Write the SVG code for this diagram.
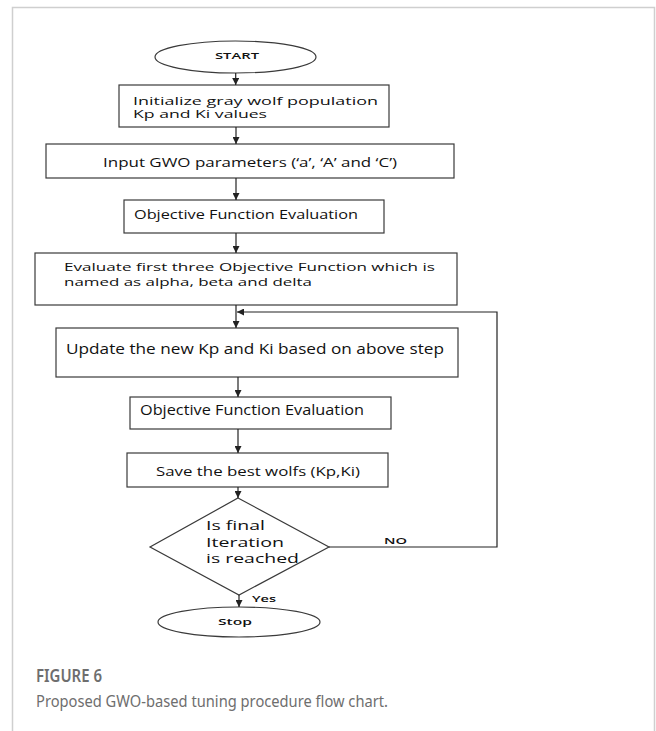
<svg xmlns="http://www.w3.org/2000/svg" width="656" height="731" viewBox="0 0 656 731">
<style>
.frame{fill:none;stroke:#cfcfcf;stroke-width:1.5}
.box{fill:#fff;stroke:#3a3a3a;stroke-width:1.2}
.t{font-family:"Open Sans","DejaVu Sans",sans-serif;fill:#111}
.lbl{font-family:"Open Sans","DejaVu Sans",sans-serif;fill:#111;font-weight:600}
.edge{fill:none;stroke:#222;stroke-width:1.2}
.cap{font-family:"Noto Sans","Open Sans",sans-serif;fill:#6e6e6e}
</style>
<defs>
<marker id="ah" viewBox="0 0 10 10" refX="10" refY="5" markerWidth="7" markerHeight="7" markerUnits="userSpaceOnUse" orient="auto">
<path d="M0,0 L10,5 L0,10 z" fill="#222"/>
</marker>
</defs>
<rect width="656" height="731" fill="#fff"/>
<path class="frame" d="M12.5,731 V7.5 H654.5 V731"/>

<g id="start">
<ellipse class="box" cx="235.5" cy="57" rx="80.5" ry="16"/>
<text class="lbl" x="215" y="58.5" font-size="8.5" textLength="44" lengthAdjust="spacingAndGlyphs">START</text>
</g>
<g id="init">
<rect class="box" x="119" y="85" width="270" height="42"/>
<text class="t" x="133" y="104.5" font-size="10.5" textLength="245" lengthAdjust="spacingAndGlyphs">Initialize gray wolf population</text>
<text class="t" x="133" y="118.2" font-size="10.5" textLength="134" lengthAdjust="spacingAndGlyphs">Kp and Ki values</text>
</g>
<g id="params">
<rect class="box" x="46" y="144" width="408" height="34"/>
<text class="t" x="103" y="166.7" font-size="13.5" textLength="294" lengthAdjust="spacingAndGlyphs">Input GWO parameters (‘a’, ‘A’ and ‘C’)</text>
</g>
<g id="eval1">
<rect class="box" x="124" y="200" width="260" height="33"/>
<text class="t" x="134" y="219.3" font-size="13.5" textLength="224" lengthAdjust="spacingAndGlyphs">Objective Function Evaluation</text>
</g>
<g id="first3">
<rect class="box" x="35" y="253" width="422" height="52"/>
<text class="t" x="64" y="271.2" font-size="11.5" textLength="371" lengthAdjust="spacingAndGlyphs">Evaluate first three Objective Function which is</text>
<text class="t" x="64" y="286.4" font-size="11.5" textLength="248" lengthAdjust="spacingAndGlyphs">named as alpha, beta and delta</text>
</g>
<g id="update">
<rect class="box" x="56" y="328" width="402" height="49"/>
<text class="t" x="66" y="354" font-size="14.5" textLength="378" lengthAdjust="spacingAndGlyphs">Update the new Kp and Ki based on above step</text>
</g>
<g id="eval2">
<rect class="box" x="130" y="397" width="261" height="32"/>
<text class="t" x="140" y="415" font-size="14" textLength="224" lengthAdjust="spacingAndGlyphs">Objective Function Evaluation</text>
</g>
<g id="save">
<rect class="box" x="127" y="453" width="261" height="34"/>
<text class="t" x="156" y="476" font-size="13.5" textLength="204" lengthAdjust="spacingAndGlyphs">Save the best wolfs (Kp,Ki)</text>
</g>
<g id="decision">
<polygon class="box" points="238,498 329,547 239,595 150,547"/>
<text class="t" x="206" y="529.5" font-size="12.5" textLength="59" lengthAdjust="spacingAndGlyphs">Is final</text>
<text class="t" x="206" y="546.5" font-size="12.5" textLength="78" lengthAdjust="spacingAndGlyphs">Iteration</text>
<text class="t" x="206" y="563" font-size="12.5" textLength="93" lengthAdjust="spacingAndGlyphs">is reached</text>
</g>
<g id="stop">
<ellipse class="box" cx="239" cy="622" rx="81" ry="15"/>
<text class="lbl" x="218" y="624.5" font-size="9" textLength="34" lengthAdjust="spacingAndGlyphs">Stop</text>
</g>

<g id="connectors">
<line class="edge" x1="235.7" y1="73" x2="235.7" y2="85" marker-end="url(#ah)"/>
<line class="edge" x1="236" y1="127" x2="236" y2="144" marker-end="url(#ah)"/>
<line class="edge" x1="236" y1="178" x2="236" y2="200" marker-end="url(#ah)"/>
<line class="edge" x1="236" y1="233" x2="236" y2="253" marker-end="url(#ah)"/>
<line class="edge" x1="236" y1="305" x2="236" y2="328" marker-end="url(#ah)"/>
<line class="edge" x1="238" y1="377" x2="238" y2="397" marker-end="url(#ah)"/>
<line class="edge" x1="238" y1="429" x2="238" y2="453" marker-end="url(#ah)"/>
<line class="edge" x1="238" y1="487" x2="238" y2="498" marker-end="url(#ah)"/>
<line class="edge" x1="239" y1="595" x2="239" y2="607" marker-end="url(#ah)"/>
<polyline class="edge" points="329,547 497,547 497,312 237,312" marker-end="url(#ah)"/>
<text class="lbl" x="384" y="544" font-size="8" textLength="23" lengthAdjust="spacingAndGlyphs">NO</text>
<text class="lbl" x="252" y="602" font-size="8.5" textLength="24" lengthAdjust="spacingAndGlyphs">Yes</text>
</g>

<text class="cap" x="36" y="682" font-size="17" font-weight="600" textLength="66" lengthAdjust="spacingAndGlyphs">FIGURE 6</text>
<text class="cap" x="36" y="706.5" font-size="17" textLength="352" lengthAdjust="spacingAndGlyphs">Proposed GWO-based tuning procedure flow chart.</text>
</svg>
